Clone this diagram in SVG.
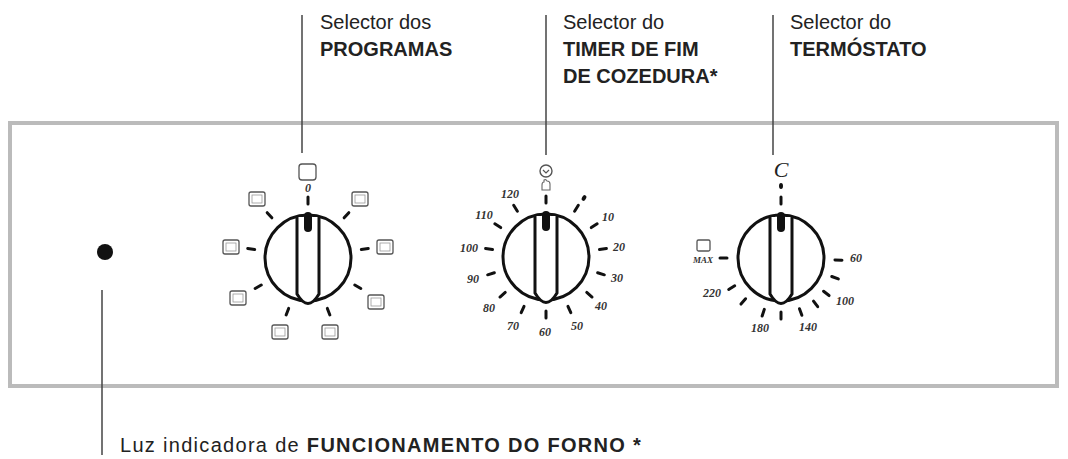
<svg xmlns="http://www.w3.org/2000/svg" width="1068" height="459" viewBox="0 0 1068 459">
<style>
.t{font-family:"Liberation Sans",Arial,sans-serif;font-size:20px;fill:#222}
.b{font-weight:bold}
.lead{stroke:#444;stroke-width:1.5;fill:none}
.tk{stroke:#111;stroke-width:3;stroke-linecap:round}
.n{font-family:"Liberation Serif",serif;font-style:italic;font-weight:bold;font-size:12px;fill:#333;text-anchor:middle}
.ic{fill:#fff;stroke:#555;stroke-width:1.3}
.k{fill:#fff;stroke:#111;stroke-width:3}
</style>
<defs>
<g id="knob">
<circle class="k" cx="0" cy="0" r="43"/>
<path class="k" d="M-11,-41 V36 Q0,55 11,36 V-41"/>
<rect x="-4" y="-46" width="8" height="20" rx="4" fill="#111"/>
</g>
<g id="icon">
<rect x="-8" y="-7" width="16" height="14" rx="2" class="ic"/>
<rect x="-5" y="-4" width="10" height="8" fill="none" stroke="#999" stroke-width="0.8"/>
</g>
</defs>
<rect x="10" y="123" width="1047" height="263" fill="#fff" stroke="#bbb" stroke-width="4"/>
<g id="connectors">
<line class="lead" x1="302" y1="15" x2="302" y2="153"/>
<line class="lead" x1="546" y1="15" x2="546" y2="155"/>
<line class="lead" x1="773" y1="15" x2="773" y2="155"/>
<line class="lead" x1="102" y1="290" x2="102" y2="455"/>
</g>
<g id="label-programas">
<text class="t" x="320" y="29">Selector dos</text>
<text class="t b" x="320" y="56">PROGRAMAS</text>
</g>
<g id="label-timer">
<text class="t" x="563" y="29">Selector do</text>
<text class="t b" x="563" y="56">TIMER DE FIM</text>
<text class="t b" x="563" y="83">DE COZEDURA*</text>
</g>
<g id="label-termostato">
<text class="t" x="790" y="29">Selector do</text>
<text class="t b" x="790" y="56">TERMÓSTATO</text>
</g>
<g id="label-luz">
<text class="t" x="120" y="452" style="letter-spacing:1.3px">Luz indicadora de <tspan class="b">FUNCIONAMENTO DO FORNO *</tspan></text>
</g>
<g id="light"><circle cx="105" cy="252" r="8" fill="#111"/></g>
<g id="dial-programas">
<g transform="translate(308,258)">
<line class="tk" x1="0" y1="-54" x2="0" y2="-61" transform="rotate(0)"/>
<line class="tk" x1="0" y1="-54" x2="0" y2="-61" transform="rotate(42)"/>
<line class="tk" x1="0" y1="-54" x2="0" y2="-61" transform="rotate(-42)"/>
<line class="tk" x1="0" y1="-54" x2="0" y2="-61" transform="rotate(81)"/>
<line class="tk" x1="0" y1="-54" x2="0" y2="-61" transform="rotate(-81)"/>
<line class="tk" x1="0" y1="-54" x2="0" y2="-61" transform="rotate(120)"/>
<line class="tk" x1="0" y1="-54" x2="0" y2="-61" transform="rotate(-120)"/>
<line class="tk" x1="0" y1="-54" x2="0" y2="-61" transform="rotate(159)"/>
<line class="tk" x1="0" y1="-54" x2="0" y2="-61" transform="rotate(-159)"/>
<use href="#knob"/>
</g>
<rect x="299" y="164" width="17" height="16" rx="3" class="ic" stroke-width="1.8"/>
<text class="n" x="308" y="192">0</text>
<use href="#icon" x="257" y="199"/>
<use href="#icon" x="360" y="199"/>
<use href="#icon" x="231" y="247"/>
<use href="#icon" x="385" y="247"/>
<use href="#icon" x="238" y="298"/>
<use href="#icon" x="376" y="302"/>
<use href="#icon" x="280" y="332"/>
<use href="#icon" x="330" y="332"/>
</g>
<g id="dial-timer">
<g transform="translate(546,257)">
<line class="tk" x1="0" y1="-54" x2="0" y2="-61"/>
<line class="tk" x1="0" y1="-54" x2="0" y2="-61" transform="rotate(32)"/>
<line class="tk" x1="0" y1="-54" x2="0" y2="-61" transform="rotate(57)"/>
<line class="tk" x1="0" y1="-54" x2="0" y2="-61" transform="rotate(82)"/>
<line class="tk" x1="0" y1="-54" x2="0" y2="-61" transform="rotate(107)"/>
<line class="tk" x1="0" y1="-54" x2="0" y2="-61" transform="rotate(131)"/>
<line class="tk" x1="0" y1="-54" x2="0" y2="-61" transform="rotate(156)"/>
<line class="tk" x1="0" y1="-54" x2="0" y2="-61" transform="rotate(180)"/>
<line class="tk" x1="0" y1="-54" x2="0" y2="-61" transform="rotate(-156)"/>
<line class="tk" x1="0" y1="-54" x2="0" y2="-61" transform="rotate(-131)"/>
<line class="tk" x1="0" y1="-54" x2="0" y2="-61" transform="rotate(-107)"/>
<line class="tk" x1="0" y1="-54" x2="0" y2="-61" transform="rotate(-82)"/>
<line class="tk" x1="0" y1="-54" x2="0" y2="-61" transform="rotate(-57)"/>
<line class="tk" x1="0" y1="-54" x2="0" y2="-61" transform="rotate(-32)"/>
<use href="#knob"/>
</g>
<ellipse cx="584" cy="198" rx="2" ry="3" fill="#111" transform="rotate(30 584 198)"/>
<circle cx="546" cy="171" r="6" fill="#fff" stroke="#555" stroke-width="1.4"/>
<path d="M543,170 L546,173 L549,170" fill="none" stroke="#555" stroke-width="1.2"/>
<path d="M542,190 V185 Q542,182 544,182 V180 Q546,179 547,181 Q550,181 550,184 V190 Z" fill="#fff" stroke="#666" stroke-width="1.1"/>
<text class="n" x="510" y="198">120</text>
<text class="n" x="484" y="219">110</text>
<text class="n" x="469" y="252">100</text>
<text class="n" x="473" y="283">90</text>
<text class="n" x="489" y="312">80</text>
<text class="n" x="513" y="330">70</text>
<text class="n" x="545" y="336">60</text>
<text class="n" x="577" y="330">50</text>
<text class="n" x="601" y="310">40</text>
<text class="n" x="617" y="282">30</text>
<text class="n" x="619" y="251">20</text>
<text class="n" x="608" y="221">10</text>
</g>
<g id="dial-termostato">
<g transform="translate(781,258)">
<line class="tk" x1="0" y1="-54" x2="0" y2="-61"/>
<line class="tk" x1="0" y1="-54" x2="0" y2="-61" transform="rotate(92)"/>
<line class="tk" x1="0" y1="-54" x2="0" y2="-61" transform="rotate(110)"/>
<line class="tk" x1="0" y1="-54" x2="0" y2="-61" transform="rotate(128)"/>
<line class="tk" x1="0" y1="-54" x2="0" y2="-61" transform="rotate(143)"/>
<line class="tk" x1="0" y1="-54" x2="0" y2="-61" transform="rotate(160)"/>
<line class="tk" x1="0" y1="-54" x2="0" y2="-61" transform="rotate(180)"/>
<line class="tk" x1="0" y1="-54" x2="0" y2="-61" transform="rotate(-162)"/>
<line class="tk" x1="0" y1="-54" x2="0" y2="-61" transform="rotate(-139)"/>
<line class="tk" x1="0" y1="-54" x2="0" y2="-61" transform="rotate(-121)"/>
<line class="tk" x1="0" y1="-54" x2="0" y2="-61" transform="rotate(-90)"/>
<use href="#knob"/>
</g>
<ellipse cx="781" cy="186" rx="2" ry="3" fill="#111"/>
<text x="781" y="177" text-anchor="middle" style="font-family:'Liberation Serif',serif;font-style:italic;font-size:22px;fill:#222">C</text>
<rect x="697" y="240" width="13" height="11" rx="1.5" class="ic"/>
<text class="n" x="703" y="263" style="font-size:9px">MAX</text>
<text class="n" x="712" y="297">220</text>
<text class="n" x="760" y="332">180</text>
<text class="n" x="808" y="331">140</text>
<text class="n" x="845" y="305">100</text>
<text class="n" x="856" y="262">60</text>
</g>
</svg>
